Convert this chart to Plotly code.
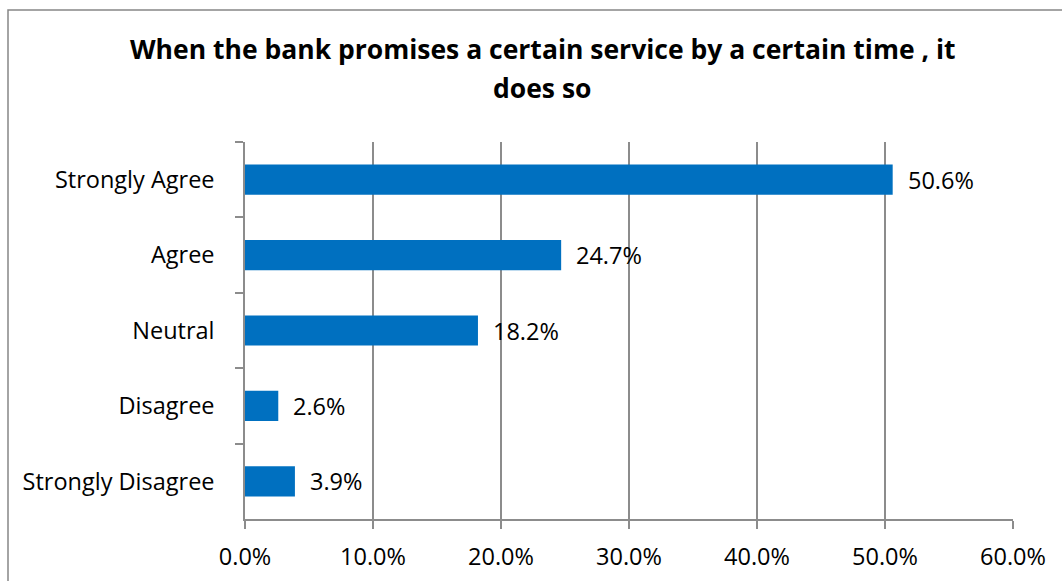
import plotly.graph_objects as go

# Survey responses (share of respondents)
categories = ["Strongly Agree", "Agree", "Neutral", "Disagree", "Strongly Disagree"]
shares = [50.6, 24.7, 18.2, 2.6, 3.9]
x_tick_values = [0, 10, 20, 30, 40, 50, 60]
x_tick_labels = ["0.0%", "10.0%", "20.0%", "30.0%", "40.0%", "50.0%", "60.0%"]
title_lines = ["When the bank promises a certain service by a certain time , it", "does so"]

W, H = 1062, 581
L, R, T, B = 245, 49, 142, 62
pw, ph = W - L - R, H - T - B

FONT = "Open Sans"
FS = 23.5
GRID = "#8c8c8c"
BAR = "#0070C0"

fig = go.Figure()
fig.add_trace(go.Bar(
    y=categories,
    x=shares,
    orientation="h",
    marker=dict(color=BAR, line=dict(width=0)),
    width=0.4,
    hoverinfo="skip",
))

# Value labels to the right of each bar
for cat, val in zip(categories, shares):
    fig.add_annotation(
        x=val, y=cat, xref="x", yref="y",
        text=f"{val:.1f}%", showarrow=False,
        xanchor="left", yanchor="middle", xshift=13,
        font=dict(family=FONT, size=FS, color="#000000"),
    )

def px_x(px):
    return (px - L) / pw

def px_y(py):
    return 1 - (py - T) / ph

# Outer chart frame
fig.add_shape(type="rect", xref="paper", yref="paper",
              x0=px_x(8), x1=px_x(1075), y0=px_y(595), y1=px_y(10),
              line=dict(color="#868686", width=1.5), fillcolor="rgba(0,0,0,0)",
              layer="below")

# Two-line bold title, one annotation per line for even spacing
for i, line in enumerate(title_lines):
    fig.add_annotation(
        xref="paper", yref="paper", x=px_x(542), y=px_y(29 + 39 * i),
        text=f"<b>{line}</b>",
        showarrow=False, xanchor="center", yanchor="top",
        font=dict(family=FONT, size=26.5, color="#000000"),
    )

fig.update_layout(
    width=W, height=H,
    margin=dict(l=L, r=R, t=T, b=B, autoexpand=False),
    paper_bgcolor="white", plot_bgcolor="white",
    showlegend=False,
    font=dict(family=FONT, size=FS, color="#000000"),
    xaxis=dict(
        range=[0, 60], tickvals=x_tick_values, ticktext=x_tick_labels,
        showgrid=True, gridcolor=GRID, gridwidth=1.5,
        showline=True, linecolor=GRID, linewidth=1.5,
        ticks="outside", ticklen=8, tickcolor=GRID, tickwidth=1.5,
        ticklabelstandoff=8, zeroline=False, fixedrange=True,
        tickfont=dict(family=FONT, size=FS, color="#000000"),
    ),
    yaxis=dict(
        categoryorder="array", categoryarray=categories, autorange="reversed",
        showgrid=False, showline=True, linecolor=GRID, linewidth=1.5,
        ticks="outside", ticklen=8, tickcolor=GRID, tickwidth=1.5,
        tickson="boundaries", ticklabelstandoff=24, fixedrange=True,
        tickfont=dict(family=FONT, size=FS, color="#000000"),
    ),
)

fig.write_html("out.html")
